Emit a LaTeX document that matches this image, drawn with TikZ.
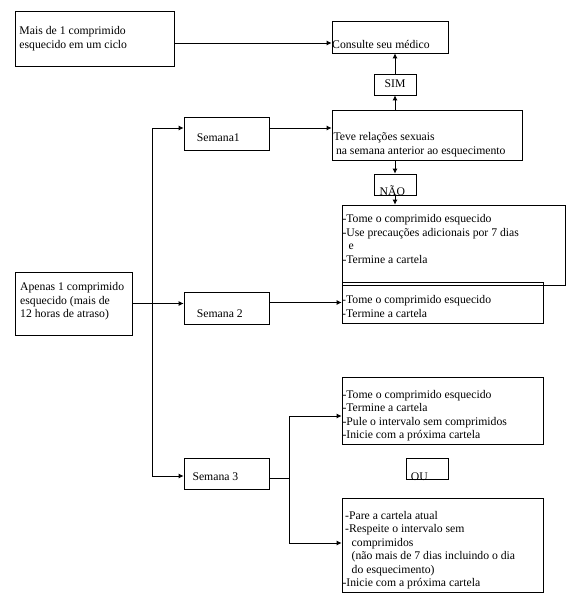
\documentclass[tikz,border=0pt]{standalone}
\usepackage{fontspec}
\setmainfont{Liberation Serif}
\usetikzlibrary{arrows.meta}
\tikzset{
  box/.style={draw, line width=0.8pt, inner sep=0pt},
  txt/.style={anchor=north west, inner sep=0pt, align=left,
    font=\fontsize{11.7}{13.5}\selectfont, execute at begin node=\strut},
  word/.style={inner sep=0pt, font=\fontsize{11.7}{13.5}\selectfont},
  arr/.style={-{Latex[length=5pt,width=5pt]}, line width=0.8pt},
  lin/.style={line width=0.8pt},
}
\begin{document}
\begin{tikzpicture}[x=1pt, y=-1pt]
  \useasboundingbox (0,0) rectangle (576,604);
  % boxes
  \node[box, minimum width=159pt, minimum height=55pt] (mais) at (94.5,38.5) {};
  \node[box, minimum width=116pt, minimum height=32pt] (consulte) at (390,37) {};
  \node[box, minimum width=42pt, minimum height=21pt] (sim) at (395,84.5) {};
  \node[box, minimum width=190pt, minimum height=50pt] (teve) at (427,135) {};
  \node[box, minimum width=42pt, minimum height=21pt] (nao) at (395,184.5) {};
  \node[box, minimum width=85pt, minimum height=33pt] (sem1) at (226.5,133.5) {};
  \node[box, minimum width=223pt, minimum height=80pt] (tome1) at (453.5,245) {};
  \node[box, minimum width=117pt, minimum height=63pt] (apenas) at (73.5,303.5) {};
  \node[box, minimum width=85pt, minimum height=32pt] (sem2) at (226.5,308) {};
  \node[box, minimum width=201pt, minimum height=41pt] (tome2) at (442.5,302.5) {};
  \node[box, minimum width=85pt, minimum height=31pt] (sem3) at (226.5,473.5) {};
  \node[box, minimum width=201pt, minimum height=67pt] (tome3) at (442.5,410.5) {};
  \node[box, minimum width=42pt, minimum height=21pt] (ou) at (427,468.5) {};
  \node[box, minimum width=201pt, minimum height=94pt] (pare) at (442.5,545) {};
  % texts
  \node[txt] (t-mais) at (19.3,26.3) {Mais de 1 comprimido\\esquecido em um ciclo};
  \node[txt] (t-consulte) at (332,39.3) {Consulte seu médico};
  \node[word, anchor=base] (t-sim) at (395,87.5) {SIM};
  \node[txt] (t-teve) at (333.3,132.6)
    {Teve relações sexuais\\\hspace{2.5pt}na semana anterior ao esquecimento};
  \node[word, anchor=base] (t-nao) at (392.3,195.5) {NÃO};
  \node[word, anchor=base west] (t-sem1) at (196.7,142) {Semana1};
  \node[txt] (t-tome1) at (342.3,214.5)
    {-Tome o comprimido esquecido\\-Use precauções adicionais por 7 dias\\
     \hspace{6pt}e\\-Termine a cartela};
  \node[txt] (t-apenas) at (20,282.5)
    {Apenas 1 comprimido\\esquecido (mais de\\12 horas de atraso)};
  \node[word, anchor=base west] (t-sem2) at (196.7,317.5) {Semana 2};
  \node[txt] (t-tome2) at (342,295.2) {-Tome o comprimido esquecido\\-Termine a cartela};
  \node[word, anchor=base west] (t-sem3) at (192.3,480) {Semana 3};
  \node[txt] (t-tome3) at (342.3,389.8)
    {-Tome o comprimido esquecido\\-Termine a cartela\\
     -Pule o intervalo sem comprimidos\\-Inicie com a próxima cartela};
  \node[word, anchor=base west] (t-ou) at (410.7,480.5) {OU};
  \node[txt] (t-pare) at (345,511)
    {-Pare a cartela atual\\-Respeite o intervalo sem\\
     \hspace{6.5pt}comprimidos\\\hspace{6.5pt}(não mais de 7 dias incluindo o dia\\
     \hspace{6.5pt}do esquecimento)\\\hspace{-2.7pt}-Inicie com a próxima cartela};
  % connectors
  \draw[arr] ([shift={(0,4.5)}]mais.east) -- ([shift={(0,6)}]consulte.west);
  \draw[arr] (sim.north) -- (sim.north |- consulte.south);
  \draw[arr] (sim.south |- teve.north) -- (sim.south);
  \draw[arr] (nao.north |- teve.south) -- (nao.north);
  \draw[arr] (nao.south) -- (nao.south |- tome1.north);
  \coordinate (split) at ([shift={(20,0)}]apenas.east);
  \draw[arr] (apenas.east) -- (apenas.east -| sem2.west);
  \draw[arr] (split) |- ([shift={(0,-5.5)}]sem1.west);
  \draw[arr] (split) |- ([shift={(0,2.5)}]sem3.west);
  \draw[arr] ([shift={(0,-5.5)}]sem1.east) -- ([shift={(0,-7)}]teve.west);
  \draw[arr] (sem2.east |- tome2.west) -- (tome2.west);
  \coordinate (fork) at ([shift={(20,4.5)}]sem3.east);
  \draw[lin] ([shift={(0,4.5)}]sem3.east) -- (fork);
  \draw[arr] (fork) |- ([shift={(0,5.5)}]tome3.west);
  \draw[arr] (fork) |- ([shift={(0,-2)}]pare.west);
\end{tikzpicture}
\end{document}
